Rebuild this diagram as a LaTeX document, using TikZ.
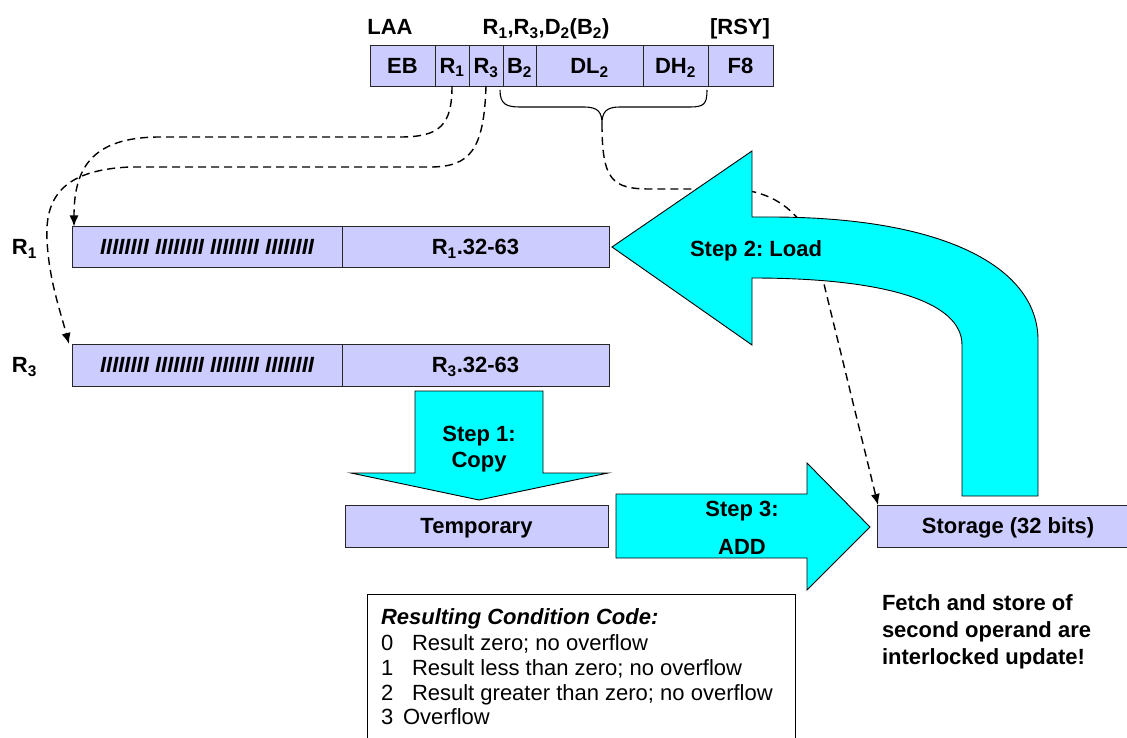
\documentclass[tikz,border=0pt]{standalone}
\usepackage{fontspec}
\setmainfont{Liberation Sans}
\usetikzlibrary{arrows.meta,positioning}
\definecolor{regblue}{HTML}{CCCCFF}
\definecolor{stepcyan}{HTML}{00FFFF}
\tikzset{every node/.style={inner sep=0pt,outer sep=0pt,text height=15.8pt,text depth=0pt}}
\tikzset{cell/.style={draw=black!85,fill=regblue,line width=0.8pt,minimum height=41pt}}
\tikzset{stepfill/.style={draw=black,fill=stepcyan,line width=0.9pt}}
\tikzset{link/.style={line width=1.4pt,dash pattern=on 8pt off 5pt,-{Latex[length=11pt,width=9pt]}}}
\tikzset{plain/.style={font=\fontsize{22}{26}\selectfont\mdseries\frenchspacing}}

\begin{document}
\begin{tikzpicture}[x=1pt,y=-1pt,font=\fontsize{22}{26}\selectfont\bfseries\frenchspacing]
\useasboundingbox (0,0) rectangle (1127,738);
% instruction format
\node (laa) at (390,27) {LAA};
\node (ops) at (546,27) {R\textsubscript{1},R\textsubscript{3},D\textsubscript{2}(B\textsubscript{2})};
\node (rsy) at (740,27) {[RSY]};
\node[cell,minimum width=65pt] (eb) at (402.5,65.5) {EB};
\node[cell,minimum width=34pt,right=0pt of eb] (fr1) {R\textsubscript{1}};
\node[cell,minimum width=34pt,right=0pt of fr1] (fr3) {R\textsubscript{3}};
\node[cell,minimum width=33pt,right=0pt of fr3] (fb2) {B\textsubscript{2}};
\node[cell,minimum width=107pt,right=0pt of fb2] (fdl) {DL\textsubscript{2}};
\node[cell,minimum width=65pt,right=0pt of fdl] (fdh) {DH\textsubscript{2}};
\node[cell,minimum width=65pt,right=0pt of fdh] (ff8) {F8};
\draw[line width=1.1pt] (500,90) .. controls (500,104) and (506,107) .. (520,107) -- (584,107)
  .. controls (598,107) and (602,112) .. (602,124) coordinate (bracetip)
  .. controls (602,112) and (606,107) .. (620,107) -- (690,107)
  .. controls (704,107) and (707,104) .. (707,90);

% registers
\node[anchor=west] (lr1) at (12,247) {R\textsubscript{1}};
\node[anchor=west] (lr3) at (12,365) {R\textsubscript{3}};
\node[cell,minimum width=270pt] (r1hi) at (207,247) {\itshape IIIIIIII IIIIIIII IIIIIIII IIIIIIII};
\node[cell,minimum width=267pt,right=0pt of r1hi] (r1lo) {R\textsubscript{1}.32-63};
\node[cell,minimum width=270pt,minimum height=42pt] (r3hi) at (207,365) {\itshape IIIIIIII IIIIIIII IIIIIIII IIIIIIII};
\node[cell,minimum width=267pt,minimum height=42pt,right=0pt of r3hi] (r3lo) {R\textsubscript{3}.32-63};
\node[cell,minimum width=263pt,minimum height=42pt] (temp) at (476.5,526) {Temporary};
\node[cell,minimum width=262pt,minimum height=42pt] (store) at (1008,526) {Storage (32 bits)};

% operand links
\draw[link] (fr1.south) .. controls (452,125) and (440,137) .. (400,137) -- (160,137)
  .. controls (90,137) and (74,170) .. ([xshift=2pt]r1hi.north west);
\draw[link] (fr3.south) .. controls (484,150) and (470,167) .. (430,167) -- (130,167)
  .. controls (60,170) and (45,200) .. (47,240) .. controls (49,280) and (60,310) .. ([xshift=-3pt]r3hi.north west);
\draw[link] (bracetip) .. controls (602,180) and (612,189) .. (650,189) -- (730,189)
  .. controls (795,190) and (818,240) .. (823,280) -- ([xshift=1pt]store.north west);

% steps
\draw[stepfill] (415,391) -- (543,391) -- (543,473) -- (608,473) -- (479,500) -- (351,473) -- (415,473) -- cycle;
\node (s1a) at (479,434) {Step 1:};
\node (s1b) at (479,460) {Copy};
\draw[stepfill] (612,247) -- (752,151) -- (752,217) -- (770,217)
  .. controls (950,217) and (1038,270) .. (1038,340) -- (1038,496) -- (962,496) -- (962,345)
  .. controls (962,300) and (880,278) .. (752,278) -- (752,345) -- cycle;
\node (s2) at (756,249) {Step 2: Load};
\draw[stepfill] (616,494) -- (807,494) -- (807,463) -- (870,527) -- (807,590) -- (807,558) -- (616,558) -- cycle;
\node (s3a) at (742,509) {Step 3:};
\node (s3b) at (742,547) {ADD};

% condition code
\node[draw=black,line width=0.9pt,minimum width=428pt,minimum height=151pt,anchor=north west] (ccbox) at (367,594) {};
\node[anchor=west] (cchead) at (381,617) {\itshape Resulting Condition Code:};
\foreach \n/\y/\txt in {0/643/Result zero; no overflow,1/668/Result less than zero; no overflow,2/693/Result greater than zero; no overflow}
{
  \node[anchor=west,plain] (ccn\n) at (381,\y) {\n};
  \node[anchor=west,plain] (cct\n) at (412,\y) {\txt};
}
\node[anchor=west,plain] (ccn3) at (381,717) {3};
\node[anchor=west,plain] (cct3) at (403,717) {Overflow};

% note
\foreach \txt [count=\i] in {Fetch and store of,second operand are,interlocked update!}
  \node[anchor=west] (note\i) at (882,576+27*\i) {\txt};
\end{tikzpicture}
\end{document}
